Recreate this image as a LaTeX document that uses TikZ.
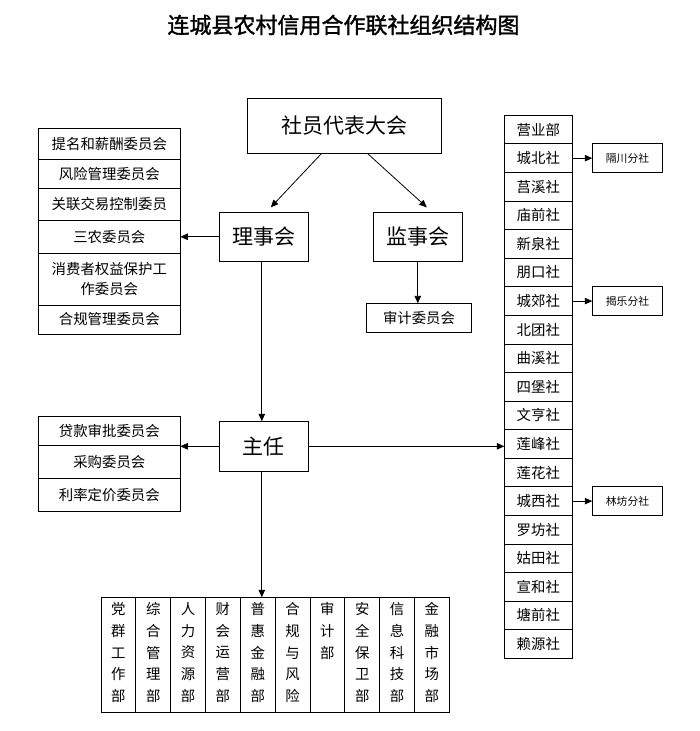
\documentclass[tikz,border=0pt]{standalone}
\usepackage{fontspec}
\setmainfont{Noto Sans CJK SC}
\newfontfamily\titlefont{Noto Sans CJK SC}[FakeBold=1.5]
\usetikzlibrary{arrows.meta,calc}
\begin{document}
\begin{tikzpicture}[x=1pt,y=-1pt,
  box/.style={draw, line width=0.8pt, inner sep=0pt, outer sep=0pt},
  arr/.style={-{Triangle[length=7.5pt,width=6.5pt]}, line width=0.8pt},
  ln/.style={line width=0.8pt},
  big/.style={font=\fontsize{21}{21}\selectfont},
  mid/.style={font=\fontsize{14.4}{20}\selectfont},
  sml/.style={font=\fontsize{10.8}{11}\selectfont},
  lcell/.style={box, mid, minimum width=142pt, align=center},
  rcell/.style={box, mid, minimum width=68pt, minimum height=28.58pt},
  dcol/.style={box, minimum width=34.83pt, minimum height=115.4pt},
  dtxt/.style={anchor=north, inner sep=0pt, align=center, font=\fontsize{14.4}{21.7}\selectfont}]
\useasboundingbox (0,0) rectangle (699,731);

\node[font=\titlefont\fontsize{22}{22}\selectfont] (title) at (343.5,25) {连城县农村信用合作联社组织结构图};

\node[box, big, minimum width=194pt, minimum height=55pt] (top) at (344.3,125.8) {社员代表大会};
\node[box, big, minimum width=89pt, minimum height=49pt] (lsh) at (263.8,236.8) {理事会};
\node[box, big, minimum width=89pt, minimum height=49pt] (jsh) at (417.8,236.8) {监事会};
\node[box, mid, minimum width=105.4pt, minimum height=28.7pt] (sj) at (419,317.7) {审计委员会};
\node[box, big, minimum width=89pt, minimum height=50pt] (zr) at (263.8,446.3) {主任};

% left committee stack 1
\node[lcell, minimum height=31pt] (c1) at (109.3,143.8) {提名和薪酬委员会};
\node[lcell, minimum height=29pt] (c2) at (109.3,173.8) {风险管理委员会};
\node[lcell, minimum height=31.7pt] (c3) at (109.3,204.2) {关联交易控制委员};
\node[lcell, minimum height=33.3pt] (c4) at (109.3,236.7) {三农委员会};
\node[lcell, minimum height=51.7pt] (c5) at (109.3,279.2) {消费者权益保护工\\作委员会};
\node[lcell, minimum height=29pt] (c6) at (109.3,319.5) {合规管理委员会};

% left committee stack 2
\node[lcell, minimum height=29.3pt] (s1) at (109.3,430.7) {贷款审批委员会};
\node[lcell, minimum height=33.4pt] (s2) at (109.3,462) {采购委员会};
\node[lcell, minimum height=32.6pt] (s3) at (109.3,495) {利率定价委员会};

% right column
\foreach \t [count=\i] in {营业部,城北社,莒溪社,庙前社,新泉社,朋口社,城郊社,北团社,曲溪社,四堡社,文亨社,莲峰社,莲花社,城西社,罗坊社,姑田社,宣和社,塘前社,赖源社}
  \node[rcell] (r\i) at (538.3,{115.3+28.58*(\i-0.5)}) {\t};

\node[box, sml, minimum width=70.5pt, minimum height=29pt] (b1) at ($(r2)+(89.2,0)$) {隔川分社};
\node[box, sml, minimum width=70.5pt, minimum height=29pt] (b2) at ($(r7)+(89.2,0)$) {揭乐分社};
\node[box, sml, minimum width=70.5pt, minimum height=29pt] (b3) at ($(r14)+(89.2,0)$) {林坊分社};

% departments
\foreach \i in {1,...,10}
  \node[dcol] (d\i) at ({101+34.83*(\i-0.5)},655) {};
\node[dtxt] at ([yshift=-5pt]d1.north) {党\\群\\工\\作\\部};
\node[dtxt] at ([yshift=-5pt]d2.north) {综\\合\\管\\理\\部};
\node[dtxt] at ([yshift=-5pt]d3.north) {人\\力\\资\\源\\部};
\node[dtxt] at ([yshift=-5pt]d4.north) {财\\会\\运\\营\\部};
\node[dtxt] at ([yshift=-5pt]d5.north) {普\\惠\\金\\融\\部};
\node[dtxt] at ([yshift=-5pt]d6.north) {合\\规\\与\\风\\险};
\node[dtxt] at ([yshift=-5pt]d7.north) {审\\计\\部};
\node[dtxt] at ([yshift=-5pt]d8.north) {安\\全\\保\\卫\\部};
\node[dtxt] at ([yshift=-5pt]d9.north) {信\\息\\科\\技\\部};
\node[dtxt] at ([yshift=-5pt]d10.north) {金\\融\\市\\场\\部};

% connectors
\draw[arr] ([xshift=-22.6pt]top.south) -- ([xshift=7pt,yshift=5pt]lsh.north);
\draw[arr] ([xshift=23pt]top.south) -- ([xshift=9pt,yshift=5pt]jsh.north);
\draw[arr] (lsh.west) -- (lsh.west -| c4.east);
\draw[arr] (jsh.south) -- (jsh.south |- sj.north);
\draw[arr] ([xshift=-2pt]lsh.south) -- ([xshift=-2pt]zr.north);
\draw[arr] (zr.west) -- (zr.west -| s1.east);
\draw[arr] (zr.east) -- (zr.east -| r12.west);
\draw[arr] ([xshift=-2pt]zr.south) -- ([xshift=-2pt]zr.south |- d5.north);
\draw[arr] (r2.east) -- (b1.west);
\draw[arr] (r7.east) -- (b2.west);
\draw[arr] (r14.east) -- (b3.west);
\end{tikzpicture}
\end{document}
